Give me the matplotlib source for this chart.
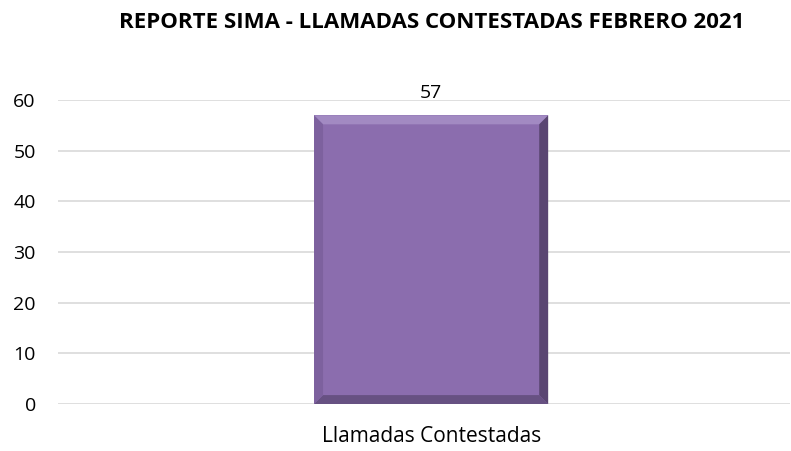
import matplotlib.pyplot as plt
from matplotlib.patches import Polygon

categorias = ['Llamadas Contestadas']
valores = [57]
titulo = 'REPORTE SIMA - LLAMADAS CONTESTADAS FEBRERO 2021'

plt.rcParams['font.family'] = ['Open Sans', 'DejaVu Sans']

fig = plt.figure(figsize=(7.91, 4.51), dpi=100)
ax = fig.add_axes([0.0733, 0.104, 0.925, 0.674])

barras = ax.bar(categorias, valores, width=0.32, color='#8B6DAE', zorder=2)
ax.set_xlim(-0.51, 0.49)
ax.set_ylim(0, 60)
ax.set_yticks(range(0, 61, 10))

ax.grid(axis='y', color='#D9D9D9', linewidth=1.2, zorder=0)
for lado in ax.spines.values():
    lado.set_visible(False)
ax.tick_params(axis='y', length=0, labelsize=14, colors='#000000', pad=16)
ax.tick_params(axis='x', length=0, labelsize=15, colors='#000000', pad=16)

# efecto bisel sobre cada barra
fig.canvas.draw()
inv = ax.transData.inverted()
for b in barras:
    (x0, y0) = ax.transData.transform((b.get_x(), 0))
    (x1, y1) = ax.transData.transform((b.get_x() + b.get_width(), b.get_height()))
    d = 9
    caras = [
        ([(x0, y1), (x1, y1), (x1 - d, y1 - d), (x0 + d, y1 - d)], '#A892C8'),
        ([(x1, y1), (x1, y0), (x1 - d, y0 + d), (x1 - d, y1 - d)], '#4E3D63'),
        ([(x0, y0), (x1, y0), (x1 - d, y0 + d), (x0 + d, y0 + d)], '#5E4A78'),
        ([(x0, y1), (x0, y0), (x0 + d, y0 + d), (x0 + d, y1 - d)], '#7A5F9B'),
    ]
    for pts, c in caras:
        datos = inv.transform(pts)
        ax.add_patch(Polygon(datos, closed=True, color=c, alpha=0.8, zorder=3, lw=0))
    ax.text(b.get_x() + b.get_width() / 2, b.get_height() + 2.6, str(b.get_height()).split('.')[0],
            ha='center', va='bottom', fontsize=14, clip_on=False)

fig.text(0.546, 0.951, titulo, ha='center', va='center', fontsize=16, fontweight='bold')

fig.savefig('out.png', dpi=100)
